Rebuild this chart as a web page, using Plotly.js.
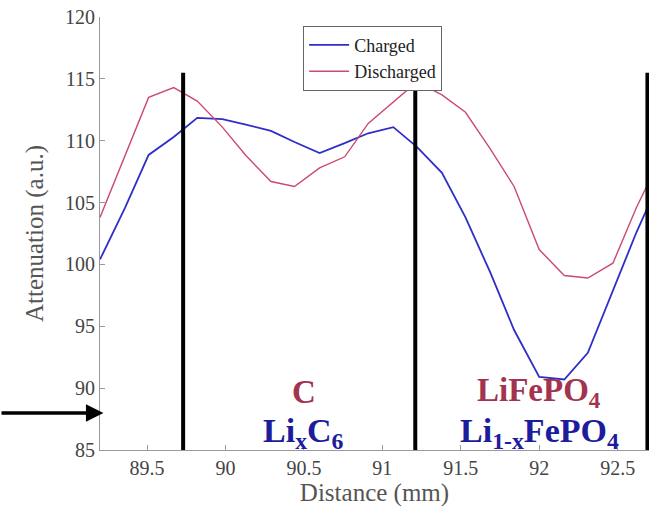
<!DOCTYPE html>
<html>
<head>
<meta charset="utf-8">
<script src="https://cdn.plot.ly/plotly-3.0.1.min.js"></script>
<style>html,body{margin:0;padding:0;background:#fff;}#chart{width:649px;height:509px;}</style>
</head>
<body>
<div id="chart"></div>
<script>
// Distance (mm)
const distance = [89.20, 89.36, 89.51, 89.67, 89.82, 89.98, 90.13, 90.29, 90.44, 90.60, 90.76, 90.91,
                  91.07, 91.22, 91.38, 91.53, 91.69, 91.84, 92.00, 92.16, 92.31, 92.47, 92.62, 92.78];
// Attenuation (a.u.)
const charged = [100.4, 104.6, 108.85, 110.3, 111.85, 111.75, 111.3, 110.8, 109.9, 109.0, 109.8, 110.6,
                 111.1, 109.5, 107.4, 103.8, 99.3, 94.7, 90.9, 90.7, 92.85, 97.95, 102.6, 107.1];
const discharged = [103.8, 108.8, 113.5, 114.3, 113.2, 111.1, 108.8, 106.7, 106.3, 107.8, 108.7, 111.4,
                    113.1, 114.75, 113.7, 112.3, 109.3, 106.3, 101.2, 99.1, 98.9, 100.1, 104.6, 108.8];
const seriesNames = ["Charged", "Discharged"];
// region boundaries (mm) and their top value
const boundaries = [89.73, 91.21, 92.69];
const boundaryTop = 115.5;
// arrow level (a.u.)
const arrowLevel = 88.0;
// region labels
const regionX = [90.5, 92.0];
const dischargedLabels = ["C", "LiFePO<sub>4</sub>"];
const chargedLabels = ["Li<sub>x</sub>C<sub>6</sub>", "Li<sub>1-x</sub>FePO<sub>4</sub>"];
const xTicks = [89.5, 90, 90.5, 91, 91.5, 92, 92.5];
const yTicks = [85, 90, 95, 100, 105, 110, 115, 120];

const blue = "#2e2ec8";
const red = "#cc4a6e";
const redText = "#a3344f";
const blueText = "#1c1c9c";
const serif = "'Liberation Serif', 'Times New Roman', serif";

const traces = [
  {x: distance, y: charged, name: seriesNames[0], mode: "lines", line: {color: blue, width: 1.8}},
  {x: distance, y: discharged, name: seriesNames[1], mode: "lines", line: {color: red, width: 1.4}}
];

const shapes = boundaries.map(b => ({
  type: "line", xref: "x", yref: "y", x0: b, x1: b, y0: 85, y1: boundaryTop,
  line: {color: "#000", width: 4}
}));

const annotations = [];
regionX.forEach((rx, i) => {
  annotations.push({x: rx, y: 89.65, xref: "x", yref: "y", text: dischargedLabels[i], showarrow: false,
    font: {family: serif, size: 33, color: redText, weight: "bold"}, xanchor: "center", yanchor: "middle"});
  annotations.push({x: rx, y: 86.4, xref: "x", yref: "y", text: chargedLabels[i], showarrow: false,
    font: {family: serif, size: 34, color: blueText, weight: "bold"}, xanchor: "center", yanchor: "middle"});
});
annotations.push({x: 89.222, y: arrowLevel, xref: "x", yref: "y", text: "", showarrow: true,
  ax: -104, ay: 0, arrowhead: 2, arrowsize: 1, arrowwidth: 3.5, arrowcolor: "#000"});

const layout = {
  width: 649, height: 509,
  margin: {l: 100, r: 0, t: 17, b: 59},
  paper_bgcolor: "#fff", plot_bgcolor: "#fff",
  showlegend: true,
  legend: {x: 0.37, y: 0.98, xanchor: "left", yanchor: "top", bgcolor: "#fff", itemwidth: 40,
    bordercolor: "#666", borderwidth: 1, font: {family: serif, size: 18, color: "#222"}},
  xaxis: {range: [89.2, 92.70], tickvals: xTicks, ticktext: xTicks.map(String), ticks: "inside", ticklen: 5,
    tickcolor: "#999", showline: true, linecolor: "#999", linewidth: 1, showgrid: false, zeroline: false,
    tickfont: {family: serif, size: 20, color: "#444"},
    title: {text: "Distance (mm)", font: {family: serif, size: 25, color: "#555"}, standoff: 2}},
  yaxis: {range: [85, 120], tickvals: yTicks, ticktext: yTicks.map(String), ticks: "inside", ticklen: 5,
    tickcolor: "#999", showline: true, linecolor: "#999", linewidth: 1, showgrid: false, zeroline: false,
    tickfont: {family: serif, size: 20, color: "#444"},
    title: {text: "Attenuation (a.u.)", font: {family: serif, size: 25, color: "#555"}, standoff: 14}},
  shapes: shapes,
  annotations: annotations
};

Plotly.newPlot("chart", traces, layout, {displayModeBar: false, staticPlot: true});
</script>
</body>
</html>
